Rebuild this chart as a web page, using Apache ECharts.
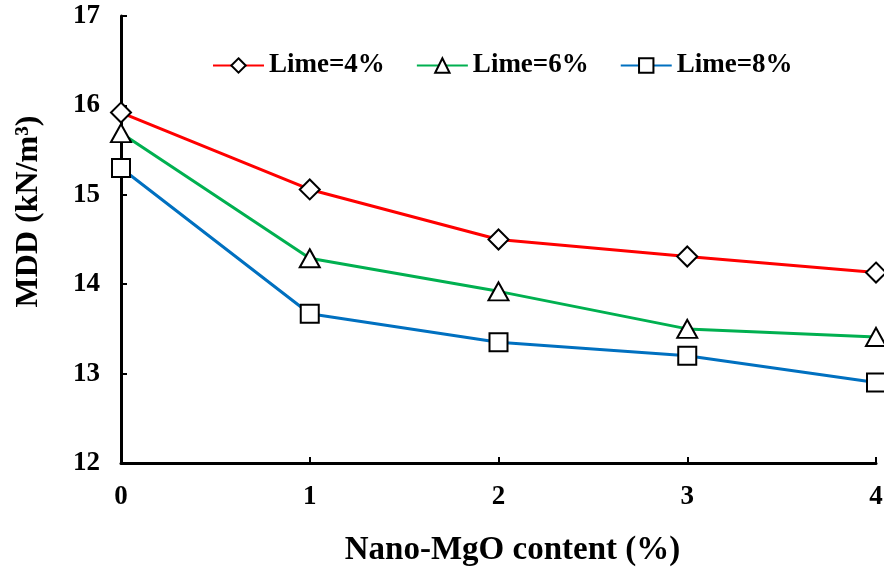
<!DOCTYPE html>
<html>
<head>
<meta charset="utf-8">
<script src="https://cdn.jsdelivr.net/npm/echarts@6/dist/echarts.min.js"></script>
<style>
  html, body { margin: 0; padding: 0; background: #fff; }
  #chart { width: 884px; height: 568px; }
</style>
</head>
<body>
<div id="chart"></div>
<script>
// Nano-MgO content (%) on the x axis
const mgoContent = [0, 1, 2, 3, 4];
// Maximum dry density (kN/m³) for each lime content
const lime4 = [15.92, 15.06, 14.50, 14.31, 14.13];
const lime6 = [15.69, 14.29, 13.92, 13.50, 13.41];
const lime8 = [15.30, 13.67, 13.35, 13.20, 12.90];
const seriesNames = ['Lime=4%', 'Lime=6%', 'Lime=8%'];
const xTicks = [0, 1, 2, 3, 4];
const yTicks = [12, 13, 14, 15, 16, 17];

const FONT = '"Liberation Serif", "Times New Roman", serif';

function pairs(ys) {
  return mgoContent.map((x, i) => [x, ys[i]]);
}

function makeSeries(name, ys, color, symbol, size) {
  return {
    name: name,
    type: 'line',
    data: pairs(ys),
    symbol: symbol,
    symbolSize: size,
    showAllSymbol: true,
    lineStyle: { color: color, width: 3 },
    itemStyle: { color: '#ffffff', borderColor: '#000000', borderWidth: 2 },
    emphasis: { disabled: true },
    z: 3
  };
}

const chart = echarts.init(document.getElementById('chart'), null, { renderer: 'canvas' });
chart.setOption({
  animation: false,
  backgroundColor: '#ffffff',
  grid: {
    left: 121, right: 8, top: 16, bottom: 105,
    containLabel: false,
    outerBoundsMode: 'none'
  },
  legend: {
    data: seriesNames,
    top: 47,
    left: 207,
    itemWidth: 51,
    itemHeight: 18,
    itemGap: 31,
    textStyle: { fontFamily: FONT, fontWeight: 'bold', fontSize: 27, color: '#000' }
  },
  xAxis: {
    type: 'value',
    min: xTicks[0],
    max: xTicks[xTicks.length - 1],
    interval: 1,
    name: 'Nano-MgO content (%)',
    nameLocation: 'middle',
    nameGap: 71,
    nameTextStyle: {
      fontFamily: FONT, fontWeight: 'bold', fontSize: 33, color: '#000',
      padding: [0, 0, 0, 28]
    },
    axisLine: { show: true, lineStyle: { color: '#000', width: 3 } },
    axisTick: { show: true, inside: true, length: 6, lineStyle: { color: '#000', width: 2 } },
    axisLabel: { margin: 21, fontFamily: FONT, fontWeight: 'bold', fontSize: 27, color: '#000' },
    splitLine: { show: false }
  },
  yAxis: {
    type: 'value',
    min: yTicks[0],
    max: yTicks[yTicks.length - 1],
    interval: 1,
    name: 'MDD (kN/m³)',
    nameLocation: 'middle',
    nameGap: 76,
    nameRotate: 90,
    nameTextStyle: {
      fontFamily: FONT, fontWeight: 'bold', fontSize: 32, color: '#000',
      padding: [0, 0, 0, 56]
    },
    axisLine: { show: true, lineStyle: { color: '#000', width: 3 } },
    axisTick: { show: true, inside: true, length: 6, lineStyle: { color: '#000', width: 2 } },
    axisLabel: { margin: 21, fontFamily: FONT, fontWeight: 'bold', fontSize: 27, color: '#000' },
    splitLine: { show: false }
  },
  series: [
    makeSeries(seriesNames[0], lime4, '#ff0000', 'diamond', 20),
    makeSeries(seriesNames[1], lime6, '#00b050', 'triangle', [20, 18]),
    makeSeries(seriesNames[2], lime8, '#0070c0', 'rect', 18)
  ]
});
</script>
</body>
</html>
